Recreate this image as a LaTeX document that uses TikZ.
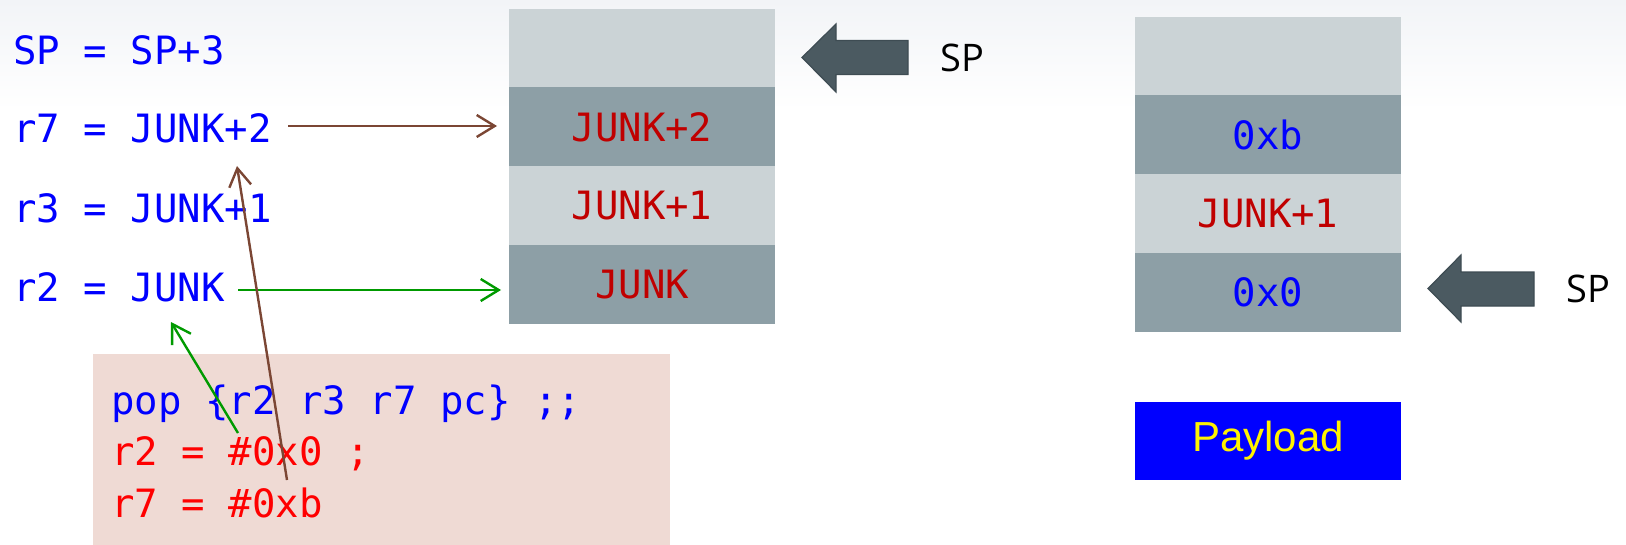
\documentclass[tikz,border=0pt]{standalone}
\usepackage{fontspec}
\setmainfont{Open Sans}
\newfontfamily\codefont{DejaVu Sans Mono}
\newfontfamily\payfont{Liberation Sans}
\usetikzlibrary{arrows.meta}

\definecolor{cellLight}{HTML}{CBD3D6}
\definecolor{cellDark}{HTML}{8D9FA6}
\definecolor{junkRed}{HTML}{C00000}
\definecolor{codeBlue}{HTML}{0000FF}
\definecolor{codeRed}{HTML}{FF0000}
\definecolor{codeBg}{HTML}{EFDAD4}
\definecolor{spFill}{HTML}{4B5A61}
\definecolor{spEdge}{HTML}{3E4C53}
\definecolor{linkBrown}{HTML}{7B4634}
\definecolor{linkGreen}{HTML}{009A00}
\definecolor{topTint}{HTML}{F2F4F7}

\begin{document}
\begin{tikzpicture}[x=0.5pt,y=-0.5pt,
  cell/.style={minimum width=133pt,minimum height=39.8pt,inner sep=0pt,outer sep=0pt,
    font=\codefont\fontsize{19.5}{23}\selectfont},
  lbl/.style={anchor=base west,inner sep=0pt,text=codeBlue,font=\codefont\fontsize{19.5}{23}\selectfont},
  codeln/.style={anchor=base west,inner sep=0pt,font=\codefont\fontsize{19.5}{23}\selectfont},
  splabel/.style={anchor=west,inner sep=0pt,font=\fontsize{19}{23}\selectfont},
  sparrow/.style={fill=spFill,draw=spEdge,line width=0.6pt,line join=miter},
  brownlink/.style={draw=linkBrown,line width=1.2pt,-{Straight Barb[length=9pt,width=11pt,line width=1.2pt]}},
  greenlink/.style={draw=linkGreen,line width=1.2pt,-{Straight Barb[length=9pt,width=11pt,line width=1.2pt]}}
]
\useasboundingbox (0,0) rectangle (1626,545);

% faint tint along the top edge
\shade[top color=topTint,bottom color=white] (0,0) rectangle (1626,110);

% register assignments on the left
\node[lbl] (spl) at (13,64.4) {SP = SP+3};
\node[lbl] (r7l) at (13,143) {r7 = JUNK+2};
\node[lbl] (r3l) at (13,222) {r3 = JUNK+1};
\node[lbl] (r2l) at (13,301) {r2 = JUNK};

% stack before the pop (cells overlap a hair so no seam shows)
\node[cell,fill=cellLight] (L0) at (642,48.4) {};
\node[cell,fill=cellDark,text=junkRed] (L1) at (642,127.1) {JUNK+2};
\node[cell,fill=cellLight,text=junkRed] (L2) at (642,205.9) {JUNK+1};
\node[cell,fill=cellDark,text=junkRed] (L3) at (642,284.6) {JUNK};

% stack after the payload
\node[cell,fill=cellLight] (R0) at (1268,56.4) {};
\node[cell,fill=cellDark,text=codeBlue] (R1) at (1268,135.1) {0xb};
\node[cell,fill=cellLight,text=junkRed] (R2) at (1268,213.9) {JUNK+1};
\node[cell,fill=cellDark,text=codeBlue] (R3) at (1268,292.6) {0x0};

% payload block
\node[fill=codeBlue,minimum width=133pt,minimum height=39pt,inner sep=0pt,
      text=yellow,font=\payfont\fontsize{21}{24}\selectfont] (pay) at (1268,441) {Payload};

% gadget listing
\node[fill=codeBg,minimum width=288.5pt,minimum height=96pt,inner sep=0pt,
      anchor=north west] (codebg) at (93,354) {};
\node[codeln,text=codeBlue] (c1) at (111,414) {pop \{r2 r3 r7 pc\} ;;};
\node[codeln,text=codeRed] (c2) at (111,465.5) {r2 = \#0x0 ;};
\node[codeln,text=codeRed] (c3) at (111,517) {r7 = \#0xb};

% stack pointer markers
\draw[sparrow] (802,57.5) -- (836,24) -- (836,40.5) -- (908,40.5) -- (908,74.5)
  -- (836,74.5) -- (836,92) -- cycle;
\node[splabel] (sp1) at (940,57.5) {SP};
\draw[sparrow] (1428,288.5) -- (1461,255) -- (1461,272) -- (1534,272) -- (1534,306)
  -- (1461,306) -- (1461,322) -- cycle;
\node[splabel] (sp2) at (1566,289) {SP};

% link ends
\coordinate (r7out) at (288,126);
\coordinate (r7in)  at (497,126);
\coordinate (r2out) at (238,290);
\coordinate (r2in)  at (501,290);
\coordinate (r7src) at (287,480);
\coordinate (r7dst) at (237,166);
\coordinate (r2src) at (238,433);
\coordinate (r2dst) at (171,322);

\draw[brownlink] (r7out) -- (r7in);
\draw[greenlink] (r2out) -- (r2in);
\draw[brownlink] (r7src) -- (r7dst);
\draw[greenlink] (r2src) -- (r2dst);
\end{tikzpicture}
\end{document}
